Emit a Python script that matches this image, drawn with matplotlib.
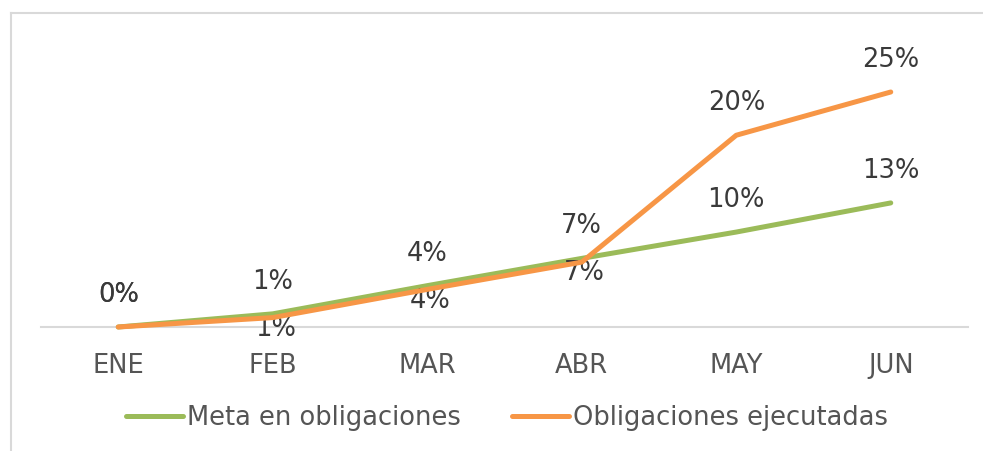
import matplotlib.pyplot as plt
from matplotlib.lines import Line2D

# data
months = ["ENE", "FEB", "MAR", "ABR", "MAY", "JUN"]
meta = [0.0, 0.014, 0.044, 0.073, 0.101, 0.132]
ejecutadas = [0.0, 0.010, 0.040, 0.069, 0.204, 0.250]

GREEN = "#9BBB59"
ORANGE = "#F79646"
TEXT = "#3a3a3a"
TICK = "#555555"
W, H = 983, 451

fig = plt.figure(figsize=(W / 100, H / 100), dpi=100)
# chart frame: only top and left edges are inside the picture
yt = (H - 12.5) / H
fig.lines.append(Line2D([11 / W, 1.0], [yt, yt], transform=fig.transFigure, color="#d9d9d9", lw=1.5))
fig.lines.append(Line2D([11 / W, 11 / W], [0, yt], transform=fig.transFigure, color="#d9d9d9", lw=1.5))

# plot area: x from 41 to 968 px, zero line at 327 px, 30% at 45 px
ax = fig.add_axes([41 / W, (H - 327) / H, 927 / W, 282 / H])
ax.set_xlim(-0.5, len(months) - 0.5)
ax.set_ylim(0, 0.30)
x = list(range(len(months)))

ax.plot(x, meta, color=GREEN, lw=3.6, solid_capstyle="round", solid_joinstyle="round",
        label="Meta en obligaciones", clip_on=False, zorder=3)
ax.plot(x, ejecutadas, color=ORANGE, lw=3.6, solid_capstyle="round", solid_joinstyle="round",
        label="Obligaciones ejecutadas", clip_on=False, zorder=4)

# data labels
fs = 18.5
for i, v in enumerate(meta):
    ax.annotate(f"{v * 100:.0f}%", (i, v), xytext=(0, 23), textcoords="offset points",
                ha="center", va="center", fontsize=fs, color=TEXT)
below = [False, True, True, True, False, False]
for i, v in enumerate(ejecutadas):
    off = (2, -8) if below[i] else (0, 23)
    ax.annotate(f"{v * 100:.0f}%", (i, v), xytext=off, textcoords="offset points",
                ha="center", va="center", fontsize=fs, color=TEXT)

ax.set_xticks(x)
ax.set_xticklabels(months, fontsize=fs, color=TICK)
ax.tick_params(axis="x", length=0, pad=19)
ax.set_yticks([])
for s in ["left", "right", "top"]:
    ax.spines[s].set_visible(False)
ax.spines["bottom"].set_color("#d9d9d9")
ax.spines["bottom"].set_linewidth(1.5)
ax.set_facecolor("none")

leg = fig.legend(loc="center", bbox_to_anchor=(507 / W, (H - 418) / H), ncol=2, frameon=False,
                 fontsize=fs, handlelength=2.2, handletextpad=0.15, columnspacing=2.0)
for t in leg.get_texts():
    t.set_color(TICK)

fig.savefig("out.png", dpi=100)
